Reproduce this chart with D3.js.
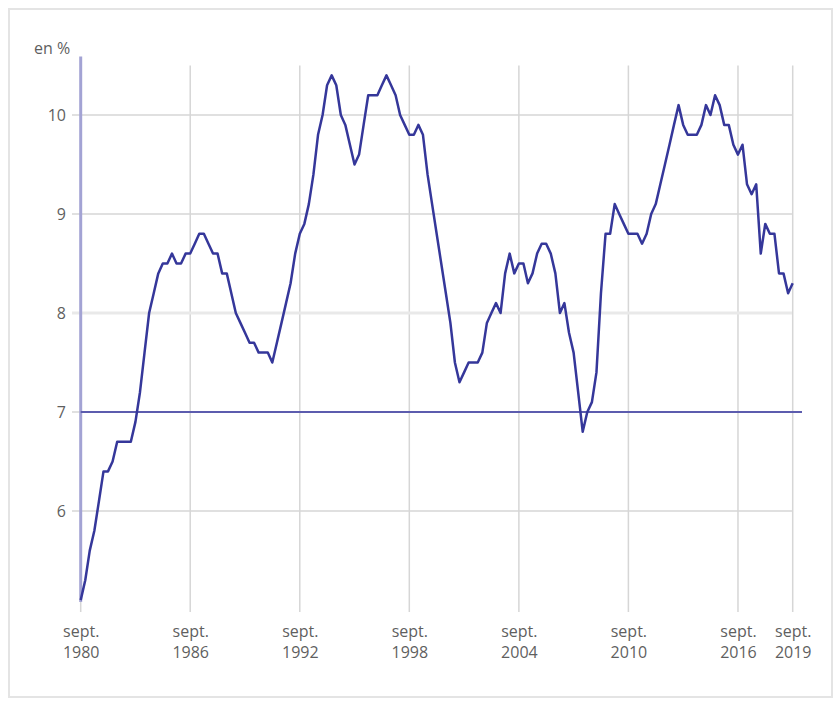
<!DOCTYPE html>
<html>
<head>
<meta charset="utf-8">
<script src="https://cdn.jsdelivr.net/npm/d3@7"></script>
<style>
  body{margin:0;background:#fff;}
  svg text{font-family:"Open Sans",sans-serif;fill:#5f5f5f;}
</style>
</head>
<body>
<div id="chart"></div>
<script>
// taux de chomage trimestriel, de sept. 1980 a sept. 2019 (en %)
const rates = [
  5.1,5.3,5.6,5.8,6.1,6.4,6.4,6.5,6.7,6.7,6.7,6.7,6.9,7.2,7.6,8.0,
  8.2,8.4,8.5,8.5,8.6,8.5,8.5,8.6,8.6,8.7,8.8,8.8,8.7,8.6,8.6,8.4,
  8.4,8.2,8.0,7.9,7.8,7.7,7.7,7.6,7.6,7.6,7.5,7.7,7.9,8.1,8.3,8.6,
  8.8,8.9,9.1,9.4,9.8,10.0,10.3,10.4,10.3,10.0,9.9,9.7,9.5,9.6,9.9,10.2,
  10.2,10.2,10.3,10.4,10.3,10.2,10.0,9.9,9.8,9.8,9.9,9.8,9.4,9.1,8.8,8.5,
  8.2,7.9,7.5,7.3,7.4,7.5,7.5,7.5,7.6,7.9,8.0,8.1,8.0,8.4,8.6,8.4,
  8.5,8.5,8.3,8.4,8.6,8.7,8.7,8.6,8.4,8.0,8.1,7.8,7.6,7.2,6.8,7.0,
  7.1,7.4,8.2,8.8,8.8,9.1,9.0,8.9,8.8,8.8,8.8,8.7,8.8,9.0,9.1,9.3,
  9.5,9.7,9.9,10.1,9.9,9.8,9.8,9.8,9.9,10.1,10.0,10.2,10.1,9.9,9.9,9.7,
  9.6,9.7,9.3,9.2,9.3,8.6,8.9,8.8,8.8,8.4,8.4,8.2,8.3
];
const firstQuarter = new Date(1980, 8, 1);
const tickYears = [1980, 1986, 1992, 1998, 2004, 2010, 2016, 2019];
const tickMonth = "sept.";
const yTicks = [6, 7, 8, 9, 10];
const refValue = 7;
const unitLabel = "en %";

const data = rates.map((v, i) => ({date: d3.timeMonth.offset(firstQuarter, 3 * i), value: v}));

const W = 839, H = 702;
const fontSize = 16;
const svg = d3.select("#chart").append("svg")
  .attr("width", W).attr("height", H);

// cadre
svg.append("rect")
  .attr("x", 9).attr("y", 9)
  .attr("width", 823).attr("height", 688)
  .attr("fill", "none")
  .attr("stroke", "#e4e4e4")
  .attr("stroke-width", 2);

const x = d3.scaleTime()
  .domain([firstQuarter, data[data.length - 1].date])
  .range([80.7, 792.7]);
const y = d3.scaleLinear()
  .domain([5, 10.5])
  .range([610, 65.5]);

// grille verticale
svg.append("g")
  .selectAll("line")
  .data(tickYears)
  .join("line")
  .attr("x1", d => x(new Date(d, 8, 1)))
  .attr("x2", d => x(new Date(d, 8, 1)))
  .attr("y1", y(10.5)).attr("y2", y(5) + 2)
  .attr("stroke", "#d6d6d6")
  .attr("stroke-width", 1.5);

// grille horizontale
svg.append("g")
  .selectAll("line")
  .data(yTicks)
  .join("line")
  .attr("x1", 72).attr("x2", 792)
  .attr("y1", d => y(d)).attr("y2", d => y(d))
  .attr("stroke", d => d === 8 ? "#e9e9e9" : "#d6d6d6")
  .attr("stroke-width", d => d === 8 ? 3 : 1.5);

// axe y (texte)
svg.append("g")
  .attr("transform", "translate(66,0)")
  .call(d3.axisLeft(y).tickValues(yTicks).tickSize(0).tickPadding(0).tickFormat(d3.format("d")))
  .call(g => g.select(".domain").remove())
  .call(g => g.selectAll("text")
    .attr("font-size", fontSize)
    .attr("font-family", "Open Sans, sans-serif")
    .attr("fill", "#5f5f5f"));

// axe x : mois puis annee, deux textes par graduation
const xAxis = svg.append("g")
  .attr("transform", "translate(0,618)")
  .call(d3.axisBottom(x)
    .tickValues(tickYears.map(yr => new Date(yr, 8, 1)))
    .tickSize(0).tickPadding(0).tickFormat(() => tickMonth));
xAxis.select(".domain").remove();
xAxis.selectAll(".tick text")
  .attr("font-size", fontSize)
  .attr("font-family", "Open Sans, sans-serif")
  .attr("fill", "#5f5f5f")
  .attr("y", 19)
  .attr("dy", null);
xAxis.selectAll(".tick")
  .append("text")
  .attr("font-size", fontSize)
  .attr("font-family", "Open Sans, sans-serif")
  .attr("fill", "#5f5f5f")
  .attr("y", 40)
  .text(d => d.getFullYear());

// axe vertical
svg.append("line")
  .attr("x1", x(firstQuarter)).attr("x2", x(firstQuarter))
  .attr("y1", y(10.59)).attr("y2", y(d3.min(rates)) + 2)
  .attr("stroke", "#a3a3d4")
  .attr("stroke-width", 3);

// ligne de reference a 7 %
svg.append("line")
  .attr("x1", x(firstQuarter)).attr("x2", 802)
  .attr("y1", y(refValue)).attr("y2", y(refValue))
  .attr("stroke", "#5c5cae")
  .attr("stroke-width", 2);

// courbe
const line = d3.line()
  .x(d => x(d.date))
  .y(d => y(d.value));
svg.append("path")
  .datum(data)
  .attr("fill", "none")
  .attr("stroke", "#35379a")
  .attr("stroke-width", 2.5)
  .attr("stroke-linejoin", "round")
  .attr("d", line);

svg.append("text")
  .attr("x", 34).attr("y", 54)
  .attr("font-size", fontSize)
  .text(unitLabel);
</script>
</body>
</html>
